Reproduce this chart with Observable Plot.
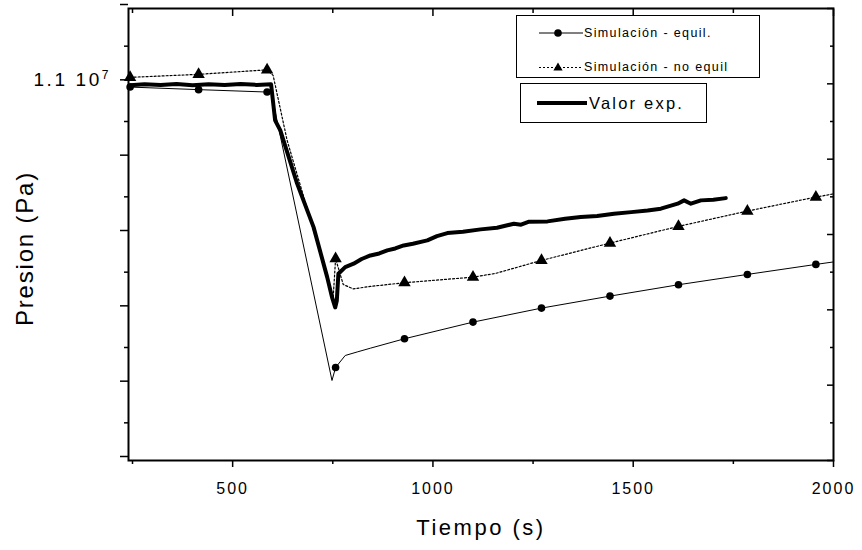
<!DOCTYPE html>
<html><head><meta charset="utf-8">
<script src="https://cdn.jsdelivr.net/npm/d3@7"></script>
<script src="https://cdn.jsdelivr.net/npm/@observablehq/plot@0.6"></script>
<style>
body{margin:0;background:#fff;}
#wrap{position:relative;width:862px;height:550px;font-family:"Liberation Sans",Arial,sans-serif;color:#000;}
.box{position:absolute;border:1.5px solid #000;box-sizing:border-box;background:#fff;}
.item{position:absolute;display:flex;align-items:center;white-space:nowrap;}
</style></head><body><div id="wrap"></div>
<script>
// ---- data (time in s, pressure in Pa) ----
const xMajorTicks = [500, 1000, 1500, 2000];
const xMinorTicks = [250, 750, 1250, 1750];
const yMajorTicks = [10500000, 10600000, 10700000, 10800000, 10900000, 11000000, 11100000];
const yMinorTicks = [10550000, 10650000, 10750000, 10850000, 10950000, 11050000];
const yLabelValue = 11000000;

const markerTime = [244, 415, 586, 757, 929, 1100, 1271, 1442, 1613, 1785, 1956];

const equilTime = [244, 415, 586, 596, 748, 757, 781, 811, 844, 929, 1100, 1271, 1442, 1613, 1785, 1956, 2000];
const equilP    = [10995700, 10992300, 10989100, 10988700, 10606200, 10623500, 10639400, 10644100, 10649100, 10661600, 10683700, 10702300, 10718200, 10733300, 10747000, 10760300, 10763600];
const equilMarkP = [10995700, 10992300, 10989100, 10623500, 10661600, 10683700, 10702300, 10718200, 10733300, 10747000, 10760300];

const noEqTime = [244, 415, 586, 601, 636, 751, 757, 776, 801, 844, 929, 1100, 1156, 1271, 1442, 1613, 1785, 1956, 2000];
const noEqP    = [11008600, 11012600, 11018600, 11011300, 10925000, 10716500, 10767900, 10733700, 10727800, 10731100, 10736000, 10743400, 10748300, 10765600, 10788600, 10810800, 10831100, 10849700, 10853900];
const noEqMarkP = [11008600, 11012600, 11018600, 10767900, 10736000, 10743400, 10765600, 10788600, 10810800, 10831100, 10849700];

const expTime = [244, 280, 320, 360, 400, 440, 480, 520, 560, 596, 606, 619, 661, 702, 736, 748, 756, 760, 764, 781, 802, 822, 844, 866, 886, 906, 927, 950, 986, 1010, 1036, 1075, 1119, 1160, 1202, 1220, 1240, 1286, 1330, 1369, 1410, 1452, 1495, 1536, 1569, 1611, 1627, 1644, 1669, 1700, 1731];
const expP    = [10998000, 10999500, 10998500, 10999800, 10998200, 10999600, 10998400, 10999700, 10998600, 10999300, 10951500, 10938200, 10867500, 10809800, 10743400, 10716900, 10703200, 10712000, 10747900, 10756700, 10761200, 10767500, 10772200, 10774800, 10778900, 10781500, 10785500, 10787800, 10792200, 10797800, 10801900, 10803600, 10806800, 10809000, 10814300, 10813000, 10817000, 10817400, 10820800, 10823100, 10824500, 10827600, 10829700, 10832000, 10834300, 10840900, 10845300, 10840900, 10845300, 10846200, 10848300];

const legendLabels = ["Simulación - equil.", "Simulación - no equil", "Valor exp."];
const xTitle = "Tiempo (s)";
const yTitle = "Presion (Pa)";

// ---- build rows ----
const rows = (ts, ps) => ts.map((t, i) => ({t, p: ps[i]}));
const equilRows = rows(equilTime, equilP);
const noEqRows = rows(noEqTime, noEqP);
const expRows = rows(expTime, expP);
const equilMarks = rows(markerTime, equilMarkP);
const noEqMarks = rows(markerTime, noEqMarkP);

const chart = Plot.plot({
  width: 862, height: 550,
  marginLeft: 128, marginRight: 29, marginTop: 8, marginBottom: 90,
  x: {domain: [240, 2000]},
  y: {domain: [10500000, 11100000]},
  style: {fontFamily: "'Liberation Sans', Arial, sans-serif", background: "white", color: "black"},
  marks: [
    Plot.axisX(xMajorTicks, {tickSize: 7, tickPadding: 15, fontSize: 16, tickFormat: d => String(d), label: null, strokeWidth: 1.5}),
    Plot.axisX(xMinorTicks, {tickSize: 4, tickFormat: () => "", label: null, strokeWidth: 1.5}),
    Plot.axisX(xMajorTicks, {anchor: "top", tickSize: -7, tickFormat: () => "", label: null, strokeWidth: 1.5}),
    Plot.axisX(xMinorTicks, {anchor: "top", tickSize: -4, tickFormat: () => "", label: null, strokeWidth: 1.5}),
    Plot.axisY(yMajorTicks, {tickSize: 8, tickPadding: 12, fontSize: 18, dy: -4, tickFormat: d => d === yLabelValue ? "1.1 10" : "", label: null, strokeWidth: 1.5}),
    Plot.axisY(yMinorTicks, {tickSize: 4, tickFormat: () => "", label: null, strokeWidth: 1.5}),
    Plot.axisY(yMajorTicks, {anchor: "right", tickSize: -7, tickFormat: () => "", label: null, strokeWidth: 1.5}),
    Plot.axisY(yMinorTicks, {anchor: "right", tickSize: -4, tickFormat: () => "", label: null, strokeWidth: 1.5}),
    Plot.line(equilRows, {x: "t", y: "p", stroke: "black", strokeWidth: 1}),
    Plot.line(noEqRows, {x: "t", y: "p", stroke: "black", strokeWidth: 1.2, strokeDasharray: "2,2"}),
    Plot.line(expRows, {x: "t", y: "p", stroke: "black", strokeWidth: 4, strokeLinejoin: "round"}),
    Plot.dot(equilMarks, {x: "t", y: "p", r: 3.8, fill: "black", symbol: "circle"}),
    Plot.dot(noEqMarks, {x: "t", y: "p", r: 4.6, fill: "black", symbol: "triangle"}),
    Plot.frame({stroke: "black", strokeWidth: 2}),
    Plot.text([xTitle], {text: d => d, frameAnchor: "bottom", dy: 74, lineAnchor: "bottom", fontSize: 22}),
    Plot.text([yTitle], {text: d => d, frameAnchor: "left", textAnchor: "middle", dx: -103, dy: 14, rotate: -90, fontSize: 24})
  ]
});

const wrap = document.getElementById("wrap");
wrap.appendChild(chart);
const svg = d3.select(chart);
svg.selectAll("text").each(function() {
  const t = this.textContent;
  const s = d3.select(this);
  if (/^\d+$/.test(t)) s.style("letter-spacing", "2px");
  if (t === xTitle) s.style("letter-spacing", "2.5px");
  if (t === yTitle) s.style("letter-spacing", "1.8px");
  if (t === "1.1 10") {
    s.style("letter-spacing", "2.6px").style("font-size", "19px");
    s.append("tspan").attr("dy", "-0.6em").attr("font-size", "12px").style("letter-spacing", "0px").text("7");
  }
});

// ---- legend (HTML overlay) ----
function addBox(l, t, w, h) {
  const d = document.createElement("div");
  d.className = "box";
  Object.assign(d.style, {left: l + "px", top: t + "px", width: w + "px", height: h + "px"});
  wrap.appendChild(d);
}
function addItem(l, cy, symSvg, label, fs, ls, gap) {
  const d = document.createElement("div");
  d.className = "item";
  d.style.left = l + "px";
  d.style.top = (cy - 12) + "px";
  d.style.height = "24px";
  d.innerHTML = symSvg + `<span style="font-size:${fs}px;letter-spacing:${ls}px;margin-left:${gap}px">${label}</span>`;
  wrap.appendChild(d);
}
addBox(516, 15, 244, 63);
addBox(520, 83, 187, 40);
addItem(539, 33,
  `<svg width="44" height="12"><line x1="0" y1="6" x2="44" y2="6" stroke="black" stroke-width="1"/><circle cx="19" cy="6" r="3.8" fill="black"/></svg>`,
  legendLabels[0], 12.5, 1.35, 1);
addItem(539, 67,
  `<svg width="44" height="12"><line x1="0" y1="6.5" x2="44" y2="6.5" stroke="black" stroke-width="1.2" stroke-dasharray="2,2"/><path d="M19,1.6 L23.6,9.6 L14.4,9.6 Z" fill="black"/></svg>`,
  legendLabels[1], 12.5, 1.35, 1);
addItem(537, 103,
  `<svg width="50" height="12"><line x1="0" y1="6" x2="50" y2="6" stroke="black" stroke-width="4"/></svg>`,
  legendLabels[2], 16.5, 2.2, 2);
</script></body></html>
